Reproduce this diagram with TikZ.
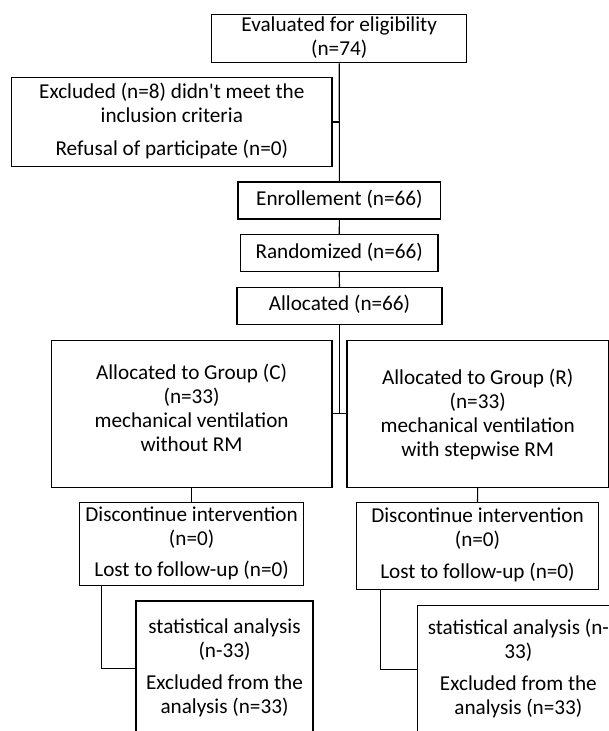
\documentclass[tikz,border=0pt]{standalone}
\usepackage{fontspec}
\setmainfont{Carlito}[Ligatures=TeXOff]
\tikzset{
  box/.style={draw=black, line width=1.1pt, inner sep=0pt, font=\fontsize{21.2}{24}\selectfont, align=center},
  conn/.style={draw=black, line width=1.1pt}
}
\newcommand{\tb}[1]{\begin{tabular}{@{}c@{}}#1\end{tabular}}
\begin{document}
\begin{tikzpicture}[x=1pt,y=-1pt]
\useasboundingbox (0,0) rectangle (609,731);
\clip (0,0) rectangle (609,731);
\node[box, minimum width=255pt, minimum height=47.3pt] (eval) at (339.2,38.8)
  {\tb{Evaluated for eligibility\\(n=74)}};
\node[box, minimum width=320.3pt, minimum height=88.6pt] (excl) at (171.8,122)
  {\tb{\raisebox{0pt}[0pt][0pt]{}Excluded (n=8) didn't meet the\\inclusion criteria\\[9pt]Refusal of participate (n=0)}};
\node[box, minimum width=202.8pt, minimum height=37pt] (enroll) at (339.4,200.5)
  {\tb{Enrollement (n=66)}};
\node[box, minimum width=197.6pt, minimum height=37pt] (rand) at (339.2,253.2)
  {\tb{Randomized (n=66)}};
\node[box, minimum width=205pt, minimum height=36.7pt] (alloc) at (339.5,305.7)
  {\tb{Allocated (n=66)}};
\node[box, minimum width=280.7pt, minimum height=147.3pt] (grpC) at (191.6,413.7)
  {\tb{Allocated to Group (C)\\(n=33)\\mechanical ventilation\\without RM\\[7pt]}};
\node[box, minimum width=261.4pt, minimum height=147.3pt] (grpR) at (477.7,413.7)
  {\tb{Allocated to Group (R)\\(n=33)\\mechanical ventilation\\with stepwise RM\\[-3pt]}};
\node[box, minimum width=224pt, minimum height=83pt] (discC) at (191.6,544.2)
  {\tb{Discontinue intervention\\(n=0)\\[7.7pt]Lost to follow-up (n=0)}};
\node[box, minimum width=242pt, minimum height=86.7pt] (discR) at (477.5,546)
  {\tb{Discontinue intervention\\(n=0)\\[8pt]Lost to follow-up (n=0)}};
\node[box, minimum width=177pt, minimum height=135.4pt] (statC) at (224.5,668.7)
  {\tb{statistical analysis\\(n-33)\\[8.7pt]Excluded from the\\analysis (n=33)}};
\node[box, minimum width=201.8pt, minimum height=128pt] (statR) at (518.4,669.7)
  {\tb{statistical analysis (n-\\33)\\[8.7pt]Excluded from the\\analysis (n=33)}};
% connectors
\draw[conn] (eval.south) -- (enroll.north);
\draw[conn] (excl.east) -- (excl.east -| eval.south);
\draw[conn] (enroll.south) -- (rand.north);
\draw[conn] (rand.south) -- (alloc.north);
\draw[conn] (alloc.south) -- (alloc.south |- grpC.east);
\draw[conn] (grpC.east) -- (grpR.west);
\draw[conn] (grpC.south) -- (discC.north);
\draw[conn] (grpR.south) -- (discR.north);
\draw[conn] ([xshift=22.5pt]discC.south west) |- (statC.west);
\draw[conn] ([xshift=24.1pt]discR.south west) |- (statR.west);
\end{tikzpicture}
\end{document}
